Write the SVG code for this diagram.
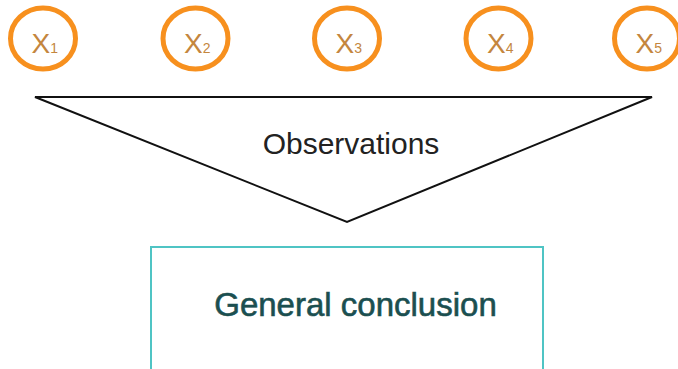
<svg xmlns="http://www.w3.org/2000/svg" width="678" height="369" viewBox="0 0 678 369">
<style>
.ring{fill:#fff;stroke:#f7901e;stroke-width:5}
.xl{font-family:"Liberation Sans",Arial,sans-serif;fill:#c4863e}
.xs{font-size:14px}
.x{font-size:28px}
.obs{font-family:"Liberation Sans",Arial,sans-serif;font-size:30px;fill:#222}
.gc{font-family:"Liberation Sans",Arial,sans-serif;font-size:33px;fill:#1b4f50;stroke:#1b4f50;stroke-width:0.6}
</style>
<rect width="678" height="369" fill="#fff"/>
<g id="x1"><ellipse class="ring" cx="43" cy="38.5" rx="32.5" ry="30.5"/><text class="xl" x="31.5" y="52.5"><tspan class="x">X</tspan><tspan class="xs">1</tspan></text></g>
<g id="x2"><ellipse class="ring" cx="195.5" cy="38.5" rx="32.5" ry="30.5"/><text class="xl" x="184" y="52.5"><tspan class="x">X</tspan><tspan class="xs">2</tspan></text></g>
<g id="x3"><ellipse class="ring" cx="347" cy="38.5" rx="32.5" ry="30.5"/><text class="xl" x="335.5" y="52.5"><tspan class="x">X</tspan><tspan class="xs">3</tspan></text></g>
<g id="x4"><ellipse class="ring" cx="498.5" cy="38.5" rx="32.5" ry="30.5"/><text class="xl" x="487" y="52.5"><tspan class="x">X</tspan><tspan class="xs">4</tspan></text></g>
<g id="x5"><ellipse class="ring" cx="647" cy="38.5" rx="32.5" ry="30.5"/><text class="xl" x="635.5" y="52.5"><tspan class="x">X</tspan><tspan class="xs">5</tspan></text></g>
<g id="observations"><polygon points="35,97 652,97 347,222" fill="#fff" stroke="#111" stroke-width="2"/><text class="obs" x="351" y="154" text-anchor="middle">Observations</text></g>
<g id="conclusion"><rect x="151" y="247" width="392" height="130" fill="#fff" stroke="#4fc4c4" stroke-width="2"/><text class="gc" x="355.5" y="316" text-anchor="middle">General conclusion</text></g>
<g id="connectors"></g>
</svg>
